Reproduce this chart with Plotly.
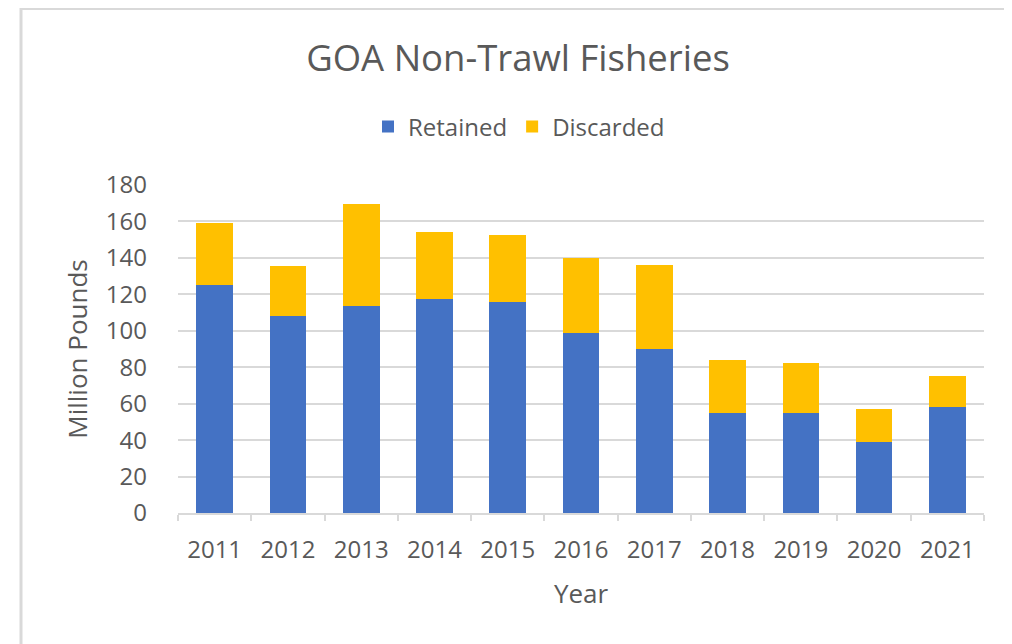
import plotly.graph_objects as go

years = ["2011", "2012", "2013", "2014", "2015", "2016", "2017", "2018", "2019", "2020", "2021"]
retained = [125.2, 108.0, 113.5, 117.5, 115.9, 98.7, 90.0, 54.8, 54.8, 38.9, 58.0]
discarded = [33.7, 27.5, 56.3, 36.6, 36.7, 41.3, 46.0, 28.9, 27.3, 18.1, 17.0]
y_ticks = [0, 20, 40, 60, 80, 100, 120, 140, 160, 180]

FONT = "Open Sans"
GRAY = "#595959"

# page is rendered with an 8px body margin; coordinates below are figure coordinates
L, T = 170, 177
pw, ph = 806, 328
W, H = 1004, 636
R, B = W - L - pw, H - T - ph


def px(x):
    return (x - L) / pw


def py(y):
    return (H - B - y) / ph


fig = go.Figure()
fig.add_trace(go.Bar(x=years, y=retained, name="Retained", marker=dict(color="#4472C4", line=dict(width=0))))
fig.add_trace(go.Bar(x=years, y=discarded, name="Discarded", marker=dict(color="#FFC000", line=dict(width=0))))

fig.update_layout(
    width=W, height=H,
    barmode="stack", bargap=0.5,
    margin=dict(l=L, r=R, t=T, b=B, autoexpand=False),
    paper_bgcolor="white", plot_bgcolor="white",
    font=dict(family=FONT, color=GRAY, size=24),
    title=dict(text="GOA Non-Trawl Fisheries", x=px(510), xanchor="center", xref="paper",
               y=1 - 50 / H, yanchor="middle",
               font=dict(family=FONT, size=36.5, color=GRAY)),
    showlegend=True,
    legend=dict(orientation="h", x=px(511), xanchor="center", y=py(119), yanchor="middle",
                font=dict(family=FONT, size=24, color=GRAY), traceorder="normal",
                bgcolor="rgba(0,0,0,0)"),
    shapes=[dict(type="rect", xref="paper", yref="paper", x0=px(13), x1=px(1040), y0=py(700), y1=py(0.5),
                 line=dict(color="#d9d9d9", width=3), layer="below")],
)
fig.update_xaxes(
    type="category", showgrid=False, showline=True, linecolor="#d9d9d9", linewidth=1.5,
    ticks="outside", tickson="boundaries", ticklen=6, tickcolor="#d9d9d9", tickwidth=1.5,
    ticklabelstandoff=14, tickfont=dict(size=24, color=GRAY),
    title=dict(text="Year", font=dict(size=26, color=GRAY), standoff=21),
)
fig.update_yaxes(
    range=[0, 180], tickvals=y_ticks, showgrid=True, gridcolor="#d9d9d9", gridwidth=1.5,
    zeroline=False, showline=False, ticks="", ticklabelstandoff=30, tickfont=dict(size=24, color=GRAY),
    title=dict(text="Million Pounds", font=dict(size=26, color=GRAY), standoff=10),
)

fig.write_html("out.html")
